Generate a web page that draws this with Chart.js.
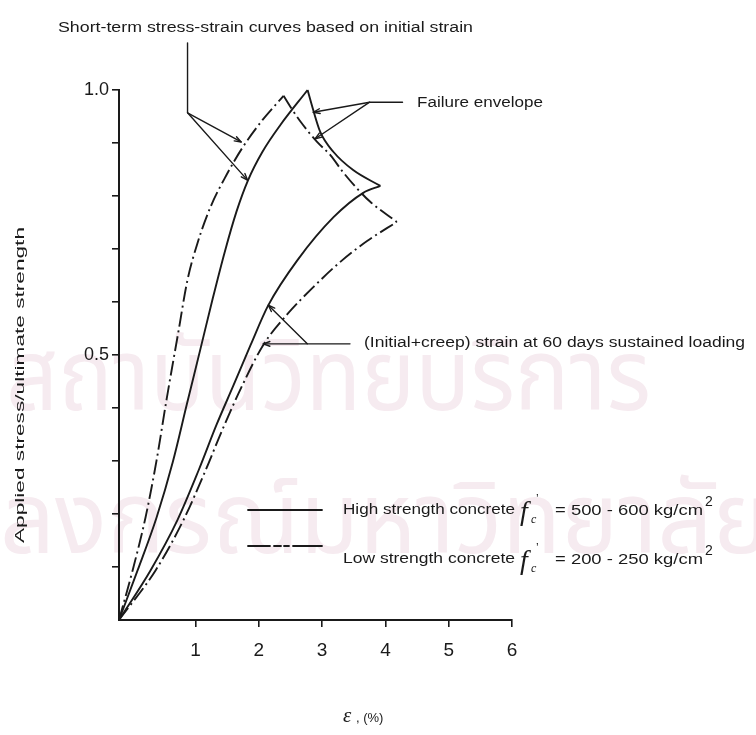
<!DOCTYPE html>
<html>
<head>
<meta charset="utf-8">
<script src="https://cdn.jsdelivr.net/npm/chart.js@4.4.1/dist/chart.umd.min.js"></script>
<style>
  html, body { margin: 0; padding: 0; background: #fff; }
  canvas { display: block; }
</style>
</head>
<body>
<canvas id="chart" width="756" height="735"></canvas>
<script>
// Strain (%) / stress-ratio pairs for each curve
const lowShortStrain  = [-0.21, 0.006, 0.21, 0.385, 0.54, 0.72, 0.873, 1.03, 1.235, 1.49, 1.74, 2.055, 2.39];
const lowShortStress  = [0, 0.094, 0.194, 0.302, 0.415, 0.538, 0.642, 0.711, 0.779, 0.840, 0.891, 0.943, 0.989];

const highShortStrain = [-0.21, 0.085, 0.385, 0.64, 0.86, 1.08, 1.27, 1.46, 1.645, 1.83, 2.055, 2.34, 2.77];
const highShortStress = [0, 0.094, 0.194, 0.298, 0.406, 0.513, 0.606, 0.694, 0.770, 0.830, 0.883, 0.934, 1.0];

const highCreepStrain = [-0.21, 0.29, 0.715, 1.05, 1.33, 1.60, 1.87, 2.15, 2.61, 3.18, 3.65, 3.92];
const highCreepStress = [0, 0.094, 0.189, 0.283, 0.368, 0.443, 0.519, 0.594, 0.679, 0.760, 0.806, 0.819];

const lowCreepStrain  = [-0.21, 0.37, 0.81, 1.16, 1.42, 1.74, 2.07, 2.45, 2.86, 3.28, 3.71, 4.18];
const lowCreepStress  = [0, 0.094, 0.189, 0.283, 0.358, 0.443, 0.519, 0.577, 0.628, 0.675, 0.715, 0.751];

// Failure envelopes: from short-term peak to end of the 60-day curve
const highEnvStrain   = [2.77, 2.85, 2.97, 3.18, 3.49, 3.92];
const highEnvStress   = [1.0, 0.966, 0.921, 0.883, 0.849, 0.819];

const lowEnvStrain    = [2.39, 2.50, 2.66, 2.92, 3.13, 3.33, 3.60, 3.76, 4.18];
const lowEnvStress    = [0.989, 0.968, 0.940, 0.902, 0.877, 0.845, 0.808, 0.789, 0.751];

// Axis ticks
const xTicks = [1, 2, 3, 4, 5, 6];
const xTickLabels = ['1', '2', '3', '4', '5', '6'];
const yTicks = [0.1, 0.2, 0.3, 0.4, 0.5, 0.6, 0.7, 0.8, 0.9, 1.0];
const yLabelled = { 0.5: '0.5', 1.0: '1.0' };
const X_MIN = -0.21, X_MAX = 6, Y_MIN = 0, Y_MAX = 1.0;

const INK = '#1a1a1a';
const DASH_DOT = [15, 4, 2, 4];
const SANS = '"Liberation Sans", Arial, sans-serif';
const THAI = '"Noto Sans Thai", "Noto Sans", "DejaVu Sans", sans-serif';

function pts(xs, ys) { return xs.map((x, i) => ({ x: x, y: ys[i] })); }
function curve(label, xs, ys, dash) {
  return {
    label: label,
    data: pts(xs, ys),
    showLine: true,
    borderColor: INK,
    borderWidth: 1.9,
    borderDash: dash || [],
    pointRadius: 0,
    cubicInterpolationMode: 'monotone',
    fill: false,
    clip: false
  };
}

// Leader lines (data units) for the call-outs
const leaders = [
  { path: [[0.873, 1.089], [0.873, 0.957], [1.72, 0.902]], arrow: true },
  { path: [[0.873, 0.957], [1.82, 0.830]], arrow: true },
  { path: [[4.27, 0.977], [3.75, 0.977], [2.86, 0.958]], arrow: true },
  { path: [[3.75, 0.977], [2.89, 0.908]], arrow: true },
  { path: [[3.44, 0.521], [2.07, 0.521]], arrow: true },
  { path: [[2.765, 0.521], [2.15, 0.594]], arrow: true }
];

function fitText(ctx, str, x, y, w, font) {
  ctx.font = font;
  const m = ctx.measureText(str).width;
  ctx.save();
  ctx.translate(x, y);
  ctx.scale(w / m, 1);
  ctx.textBaseline = 'middle';
  ctx.textAlign = 'left';
  ctx.fillText(str, 0, 0);
  ctx.restore();
}

function arrowHead(ctx, x0, y0, x1, y1) {
  const a = Math.atan2(y1 - y0, x1 - x0);
  const L = 7, s = 0.35;
  ctx.beginPath();
  ctx.moveTo(x1 - L * Math.cos(a - s), y1 - L * Math.sin(a - s));
  ctx.lineTo(x1, y1);
  ctx.lineTo(x1 - L * Math.cos(a + s), y1 - L * Math.sin(a + s));
  ctx.stroke();
}

// Faint watermark behind the plot
const watermark = {
  id: 'watermark',
  beforeDraw(chart) {
    const ctx = chart.ctx;
    ctx.save();
    ctx.fillStyle = '#f6ebf0';
    ctx.textBaseline = 'alphabetic';
    ctx.textAlign = 'left';
    ctx.font = '100px ' + THAI;
    const l1 = 'สถาบันวิทยบริการ';
    const w1 = ctx.measureText(l1).width;
    ctx.save();
    ctx.translate(6, 410);
    ctx.scale(645 / w1, 1);
    ctx.fillText(l1, 0, 0);
    ctx.restore();

    const head = 'จุฬา', rest = 'ลงกรณ์มหาวิทยาลัย';
    const wh = ctx.measureText(head).width, wr = ctx.measureText(rest).width;
    const k = 770 / wr;
    ctx.save();
    ctx.translate(-wh * k, 553);
    ctx.scale(k, 1);
    ctx.fillText(head + rest, 0, 0);
    ctx.restore();
    ctx.restore();
  }
};

// Call-outs, legend and axis titles
const callouts = {
  id: 'callouts',
  afterDatasetsDraw(chart) {
    const ctx = chart.ctx;
    const sx = chart.scales.x, sy = chart.scales.y;
    const P = (p) => [sx.getPixelForValue(p[0]), sy.getPixelForValue(p[1])];
    ctx.save();
    ctx.strokeStyle = INK;
    ctx.fillStyle = INK;
    ctx.lineWidth = 1.4;
    ctx.lineCap = 'round';
    ctx.lineJoin = 'round';
    leaders.forEach(l => {
      const px = l.path.map(P);
      ctx.beginPath();
      ctx.moveTo(px[0][0], px[0][1]);
      for (let i = 1; i < px.length; i++) ctx.lineTo(px[i][0], px[i][1]);
      ctx.stroke();
      if (l.arrow) {
        const a = px[px.length - 2], b = px[px.length - 1];
        arrowHead(ctx, a[0], a[1], b[0], b[1]);
      }
    });

    // text call-outs
    fitText(ctx, 'Short-term stress-strain curves based on initial strain', 58, 28, 415, '14px ' + SANS);
    fitText(ctx, 'Failure envelope', 417, 103, 126, '14px ' + SANS);
    fitText(ctx, '(Initial+creep) strain at 60 days sustained loading', 364, 343, 381, '14px ' + SANS);

    // legend
    ctx.lineWidth = 1.8;
    ctx.beginPath(); ctx.moveTo(248, 510); ctx.lineTo(322, 510); ctx.stroke();
    ctx.setLineDash([22, 4, 7, 3, 5, 4, 30]);
    ctx.beginPath(); ctx.moveTo(248, 546); ctx.lineTo(322, 546); ctx.stroke();
    ctx.setLineDash([]);
    const rows = [
      { name: 'High strength concrete', val: '= 500 - 600 kg/cm', y: 510 },
      { name: 'Low strength concrete',  val: '= 200 - 250 kg/cm', y: 559 }
    ];
    rows.forEach(r => {
      fitText(ctx, r.name, 343, r.y, 172, '15px ' + SANS);
      ctx.font = 'italic 28px "Liberation Serif", serif';
      ctx.textBaseline = 'middle';
      ctx.fillText('f', 520, r.y + 3);
      ctx.font = 'italic 12px "Liberation Serif", serif';
      ctx.fillText('c', 531, r.y + 10);
      ctx.font = '12px ' + SANS;
      ctx.fillText('\u2019', 536, r.y - 10);
      fitText(ctx, r.val, 555, r.y + 1, 148, '15px ' + SANS);
      ctx.font = '14px ' + SANS;
      ctx.fillText('2', 705, r.y - 8);
    });

    // axis titles
    ctx.save();
    ctx.translate(20, 385);
    ctx.rotate(-Math.PI / 2);
    ctx.font = '13px ' + SANS;
    const t = 'Applied stress/ultimate strength';
    const w = ctx.measureText(t).width;
    ctx.scale(316 / w, 1);
    ctx.textAlign = 'center';
    ctx.textBaseline = 'middle';
    ctx.fillText(t, 0, 0);
    ctx.restore();

    ctx.font = 'italic 21px "Liberation Serif", serif';
    ctx.textBaseline = 'middle';
    ctx.fillText('\u03b5', 343, 716);
    ctx.font = '13px ' + SANS;
    ctx.fillText(', (%)', 356, 718);
    ctx.restore();
  }
};

new Chart(document.getElementById('chart'), {
  type: 'scatter',
  data: {
    datasets: [
      curve('Low strength short-term', lowShortStrain, lowShortStress, DASH_DOT),
      curve('High strength short-term', highShortStrain, highShortStress),
      curve('High strength 60 days', highCreepStrain, highCreepStress),
      curve('Low strength 60 days', lowCreepStrain, lowCreepStress, DASH_DOT),
      curve('High strength failure envelope', highEnvStrain, highEnvStress),
      curve('Low strength failure envelope', lowEnvStrain, lowEnvStress, DASH_DOT)
    ]
  },
  options: {
    responsive: false,
    animation: false,
    devicePixelRatio: 1,
    layout: { padding: { left: 0, top: 90, right: 244, bottom: 0 } },
    plugins: { legend: { display: false }, tooltip: { enabled: false } },
    scales: {
      x: {
        type: 'linear',
        min: X_MIN, max: X_MAX,
        afterFit(s) { s.height = 115; },
        afterBuildTicks(s) { s.ticks = xTicks.map(v => ({ value: v })); },
        grid: { drawOnChartArea: false, drawTicks: true, tickLength: 7, color: INK, lineWidth: 1.6 },
        border: { display: true, color: INK, width: 2 },
        ticks: {
          color: INK, padding: 12, maxRotation: 0, autoSkip: false,
          font: { family: SANS, size: 19 },
          callback: (v) => xTickLabels[xTicks.indexOf(v)] || ''
        }
      },
      y: {
        type: 'linear',
        min: Y_MIN, max: Y_MAX,
        afterFit(s) { s.width = 119; },
        afterBuildTicks(s) { s.ticks = yTicks.map(v => ({ value: v })); },
        grid: { drawOnChartArea: false, drawTicks: true, tickLength: 7, color: INK, lineWidth: 1.6 },
        border: { display: true, color: INK, width: 2 },
        ticks: {
          color: INK, padding: 3, autoSkip: false,
          font: { family: SANS, size: 18 },
          callback: (v) => yLabelled[Math.round(v * 10) / 10] || ''
        }
      }
    }
  },
  plugins: [watermark, callouts]
});
</script>
</body>
</html>
